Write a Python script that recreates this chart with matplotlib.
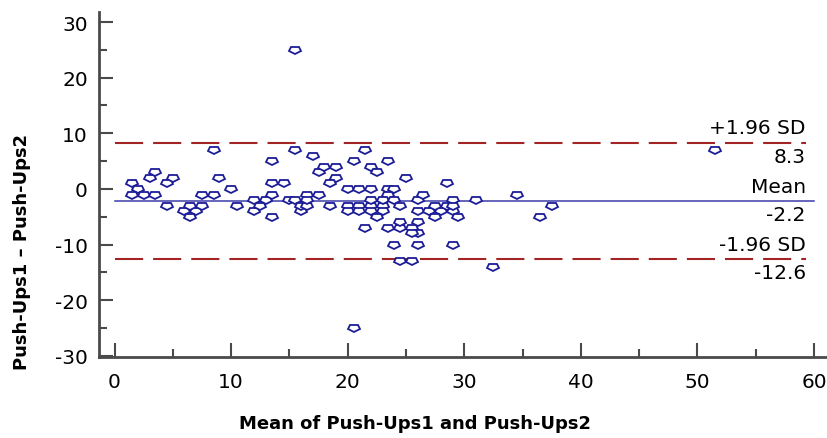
import numpy as np
import matplotlib
matplotlib.use('Agg')
import matplotlib.pyplot as plt
from matplotlib.markers import MarkerStyle
from matplotlib.transforms import Affine2D

plt.rcParams['axes.unicode_minus'] = False

# Bland-Altman data: mean of the two tests and their difference
means = [1.5, 2, 1.5, 2.5, 3.5, 3, 3.5, 4.5, 5, 4.5, 6, 7, 6.5, 6.5, 7.5, 7.5, 8.5, 8.5,
         9, 10, 10.5, 12, 12.5, 13, 13.5, 13.5, 13.5, 14.5, 13.5, 15, 15.5, 15.5, 15.5,
         16, 16, 16.5, 16.5, 17.5, 17, 17.5, 18, 19, 19, 18.5, 18.5, 20, 21, 22, 20.5,
         21.5, 22, 22.5, 23.5, 23.5, 23.5, 24, 20, 21, 22, 23, 24.5, 20, 21, 22, 23,
         22.5, 21.5, 23.5, 24.5, 25.5, 24.5, 26, 26, 24, 26, 29, 24.5, 25.5, 32.5,
         20.5, 22, 23, 24, 26, 29, 31, 25, 28.5, 26.5, 34.5, 26, 27, 28, 29, 27.5,
         28.5, 29, 27.5, 29.5, 36.5, 37.5, 51.5, 25.5, 12, 16.5]
diffs = [1, 0, -1, -1, -1, 2, 3, 1, 2, -3, -4, -4, -5, -3, -3, -1, -1, 7,
         2, 0, -3, -4, -3, -2, -5, -1, 1, 1, 5, -2, -2, 7, 25,
         -4, -3, -3, -1, -1, 6, 3, 4, 4, 2, 1, -3, 0, 0, 0, 5,
         7, 4, 3, 5, 0, -1, 0, -3, -3, -3, -3, -3, -4, -4, -4, -4,
         -5, -7, -7, -7, -7, -6, -6, -8, -10, -10, -10, -13, -13, -14,
         -25, -2, -2, -2, -2, -2, -2, 2, 1, -1, -1, -4, -4, -4, -4, -3,
         -3, -3, -5, -5, -5, -3, 7, -8, -2, -2]

mean_diff = -2.2
upper = 8.3
lower = -12.6
line_labels = ['+1.96 SD', 'Mean', '-1.96 SD']

navy = '#1c1c96'
red = '#a32424'
axis_col = '#4a4a4a'

fig = plt.figure(figsize=(8.28, 4.39), dpi=100)
ax = fig.add_axes([0.1196, 0.1845, 0.8804, 0.7859])

# wide, flat pentagon point-down, like the original symbols
mk = MarkerStyle('p', transform=Affine2D().rotate_deg(180).scale(1.3, 0.85))
ax.plot(means, diffs, linestyle='none', marker=mk, markersize=7,
        markerfacecolor='white', markeredgecolor=navy, markeredgewidth=1.3, zorder=3)

ax.plot([0, 60], [mean_diff, mean_diff], color='#3a3aa8', lw=1.1, zorder=2)
for yv in (upper, lower):
    ln, = ax.plot([0, 59.3], [yv, yv], color=red, lw=1.5, zorder=2)
    ln.set_dashes((13.5, 4.8))

# labels of the three lines
for yv, lab in zip([upper, mean_diff, lower], line_labels):
    ax.annotate(lab, (59.3, yv), xytext=(0, 4), textcoords='offset points',
                ha='right', va='bottom', fontsize=14.5, family='DejaVu Sans')
    ax.annotate('%.1f' % yv, (59.3, yv), xytext=(0, -3), textcoords='offset points',
                ha='right', va='top', fontsize=14.5, family='DejaVu Sans')

ax.set_xlim(-1.33, 61.2)
ax.set_ylim(-30.2, 31.8)
ax.set_xticks(np.arange(0, 61, 10))
ax.set_xticks(np.arange(5, 60, 10), minor=True)
ax.set_yticks(np.arange(-30, 31, 10))
ax.set_yticks(np.arange(-25, 30, 10), minor=True)
ax.tick_params(which='major', direction='in', length=10, width=1.5, color=axis_col,
               labelsize=14.5)
ax.tick_params(axis='x', which='major', pad=11)
ax.tick_params(axis='y', which='major', pad=8)
ax.tick_params(which='minor', direction='in', length=6, width=1.5, color=axis_col)

for s in ['top', 'right']:
    ax.spines[s].set_visible(False)
for s in ['left', 'bottom']:
    ax.spines[s].set_color(axis_col)
    ax.spines[s].set_linewidth(2)

fig.text(0.027, 0.426, 'Push-Ups1 \u2013 Push-Ups2', rotation=90, ha='center', va='center',
         fontsize=13, fontweight='bold')
fig.text(0.501, 0.034, 'Mean of Push-Ups1 and Push-Ups2', ha='center', va='center',
         fontsize=13, fontweight='bold')

fig.savefig('out.png', dpi=100)
